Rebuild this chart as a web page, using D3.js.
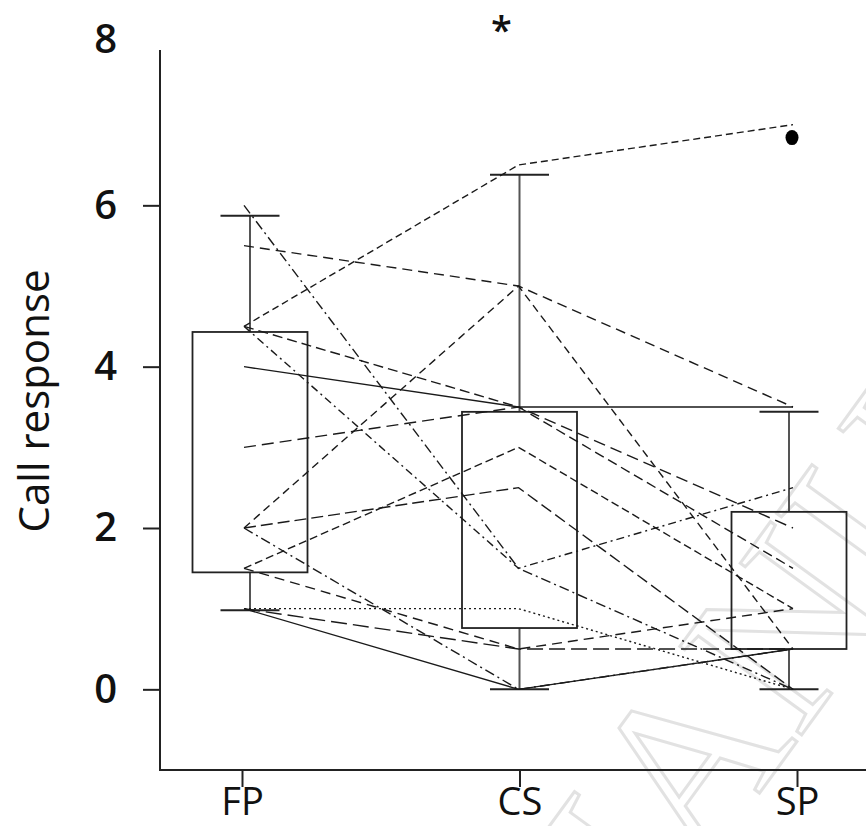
<!DOCTYPE html>
<html>
<head>
<meta charset="utf-8">
<script src="https://cdn.jsdelivr.net/npm/d3@7"></script>
<style>
  html, body { margin: 0; padding: 0; background: #fff; }
  svg { display: block; }
</style>
</head>
<body>
<script>
// ---------------- data ----------------
const categories = ["FP", "CS", "SP"];
const yTicks = [0, 2, 4, 6, 8];

// paired responses of each individual (one entry per individual)
const fpValues = [4.5, 5.5, 2, 4, 4.5, 3, 1.5, 2, 6, 4.5, 1, 1.5, 1, 2, 1];
const csValues = [6.5, 5, 5, 3.5, 3.5, 3.5, 3, 2.5, 1.5, 1.5, 1, 0.5, 0.5, 0, 0];
const spValues = [7, 3.5, 0.5, 3.5, 1.5, 2, 1, 0, 0, 2.5, 0, 1, 0.5, 0.5, 0.5];

// box-plot statistics as drawn in the figure
const whiskerLow  = [0.98, 0, 0];
const quartile1   = [1.45, 0.76, 0.5];
const medians     = [1.97, 2.45, 0.98];
const quartile3   = [4.43, 3.44, 2.2];
const whiskerHigh = [5.87, 6.38, 3.44];
const outliers    = [{cat: "SP", value: 6.84}];

const yLabel = "Call response";
const sigLabel = "*";
const sigFrom = "FP", sigTo = "SP";
const watermark = "MANUSCRIPT";

// line styles (one per individual)
const dashStyles = ["7,4", "10,6", "8,5", null, "10,5", "12,6", "8,4", "12,5",
                    "10,4,2,4", "8,4,2,4", "2,3", "10,6", "16,6", "10,4,2,4", null];

// ---------------- drawing ----------------
const W = 866, H = 826;
const svg = d3.select("body").append("svg").attr("width", W).attr("height", H)
  .style("background", "#fff");

const defs = svg.append("defs");
const blur = defs.append("filter").attr("id", "soft").attr("x", "-5%").attr("y", "-100%")
  .attr("width", "110%").attr("height", "400%");
blur.append("feGaussianBlur").attr("in", "SourceAlpha").attr("stdDeviation", 2).attr("result", "b");
blur.append("feOffset").attr("in", "b").attr("dy", 3).attr("result", "o");
blur.append("feComponentTransfer").attr("in", "o").attr("result", "o2")
  .append("feFuncA").attr("type", "linear").attr("slope", 0.35);
const mg = blur.append("feMerge");
mg.append("feMergeNode").attr("in", "o2");
mg.append("feMergeNode").attr("in", "SourceGraphic");

// watermark (faint, partly outside the picture as in the source)
svg.append("text")
  .attr("transform", "translate(580,1040) rotate(-54)")
  .attr("font-family", "Liberation Serif, serif")
  .attr("font-size", 230)
  .attr("fill", "none")
  .attr("stroke", "#e2e2e2")
  .attr("stroke-width", 3)
  .text(watermark);

const y = d3.scaleLinear().domain([-1, 8]).range([770, 44]);
const xTick = d3.scalePoint().domain(categories).range([242, 797]);
const xLine = d3.scalePoint().domain(categories).range([244, 793]);
const xBox  = d3.scalePoint().domain(categories).range([250, 789]);
const boxW = 115, capW = 59;

// axes
const yAx = svg.append("g").attr("transform", "translate(160,0)")
  .call(d3.axisLeft(y).tickValues(yTicks).tickSize(17).tickPadding(26).tickFormat(d3.format("d")));
yAx.select(".domain").remove();
yAx.selectAll(".tick line").attr("stroke", "#222").attr("stroke-width", 2)
  .filter(d => d === 8).remove();
yAx.selectAll(".tick text")
  .attr("font-family", "Open Sans, sans-serif").attr("font-size", 40).attr("font-weight", 600)
  .attr("fill", "#111");
yAx.selectAll(".tick").filter(d => d === 8).select("text").attr("dy", "0.2em");

svg.append("line").attr("x1", 160).attr("x2", 160).attr("y1", 50).attr("y2", 770)
  .attr("stroke", "#222").attr("stroke-width", 2);

const xAx = svg.append("g").attr("transform", "translate(0,770)")
  .call(d3.axisBottom(xTick).tickSize(17).tickPadding(1));
xAx.select(".domain").remove();
xAx.selectAll(".tick line").attr("stroke", "#222").attr("stroke-width", 2);
xAx.selectAll(".tick text")
  .attr("font-family", "Open Sans, sans-serif").attr("font-size", 38)
  .attr("fill", "#111");
svg.append("line").attr("x1", 159).attr("x2", 866).attr("y1", 770).attr("y2", 770)
  .attr("stroke", "#222").attr("stroke-width", 2);

// y label
svg.append("text")
  .attr("transform", `translate(49,${(272 + 530) / 2}) rotate(-90)`)
  .attr("text-anchor", "middle")
  .attr("font-family", "Open Sans, sans-serif").attr("font-size", 42)
  .attr("fill", "#111")
  .text(yLabel);

// boxes
const boxG = svg.append("g");
categories.forEach((c, i) => {
  const cx = xBox(c);
  const g = boxG.append("g");
  g.append("line").attr("x1", cx).attr("x2", cx).attr("y1", y(quartile3[i])).attr("y2", y(whiskerHigh[i]))
    .attr("stroke", "#555").attr("stroke-width", 2);
  g.append("line").attr("x1", cx).attr("x2", cx).attr("y1", y(quartile1[i])).attr("y2", y(whiskerLow[i]))
    .attr("stroke", "#555").attr("stroke-width", 2);
  g.append("line").attr("x1", cx - capW / 2).attr("x2", cx + capW / 2)
    .attr("y1", y(whiskerHigh[i])).attr("y2", y(whiskerHigh[i]))
    .attr("stroke", "#222").attr("stroke-width", 2);
  g.append("line").attr("x1", cx - capW / 2).attr("x2", cx + capW / 2)
    .attr("y1", y(whiskerLow[i])).attr("y2", y(whiskerLow[i]))
    .attr("stroke", "#222").attr("stroke-width", 2);
  g.append("rect").attr("x", cx - boxW / 2).attr("width", boxW)
    .attr("y", y(quartile3[i])).attr("height", y(quartile1[i]) - y(quartile3[i]))
    .attr("fill", "none").attr("stroke", "#222").attr("stroke-width", 1.8);
});

// individual lines
const lineGen = d3.line().x(d => xLine(d.cat)).y(d => y(d.v));
const individuals = fpValues.map((v, i) => [
  {cat: "FP", v: v}, {cat: "CS", v: csValues[i]}, {cat: "SP", v: spValues[i]}
]);
svg.append("g").selectAll("path").data(individuals).join("path")
  .attr("d", lineGen)
  .attr("fill", "none")
  .attr("stroke", "#1a1a1a")
  .attr("stroke-width", 1.4)
  .attr("stroke-dasharray", (d, i) => dashStyles[i]);

// medians (on top)
categories.forEach((c, i) => {
  const cx = xBox(c);
  svg.append("line").attr("x1", cx - boxW / 2 - 3).attr("x2", cx + boxW / 2)
    .attr("y1", y(medians[i])).attr("y2", y(medians[i]))
    .attr("stroke", "#000").attr("stroke-width", 6).attr("filter", "url(#soft)");
});

// outliers
svg.append("g").selectAll("ellipse").data(outliers).join("ellipse")
  .attr("cx", d => xBox(d.cat) + 3).attr("cy", d => y(d.value))
  .attr("rx", 6.5).attr("ry", 7.5).attr("fill", "#000");

// significance bar
svg.append("line").attr("x1", xTick(sigFrom) - 2).attr("x2", xTick(sigTo) - 2)
  .attr("y1", 67).attr("y2", 67)
  .attr("stroke", "#000").attr("stroke-width", 6).attr("filter", "url(#soft)");
svg.append("text").attr("x", (xTick(sigFrom) + xTick(sigTo)) / 2 - 18).attr("y", 44)
  .attr("text-anchor", "middle")
  .attr("font-family", "Open Sans, sans-serif").attr("font-size", 38).attr("font-weight", 600)
  .attr("fill", "#111")
  .text(sigLabel);
</script>
</body>
</html>
